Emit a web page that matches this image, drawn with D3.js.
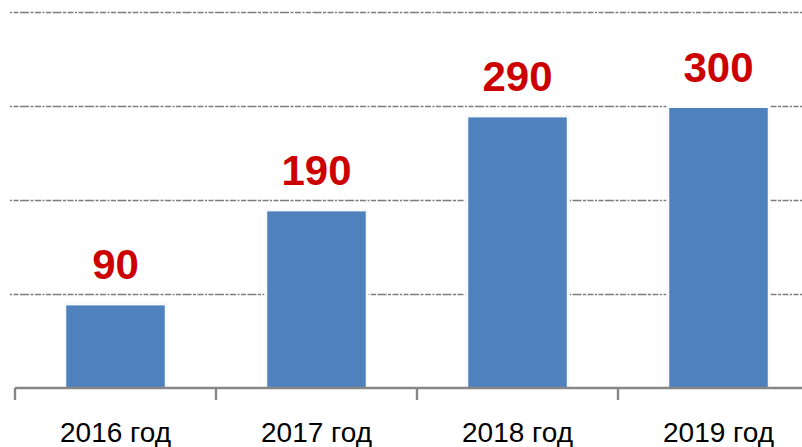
<!DOCTYPE html>
<html>
<head>
<meta charset="utf-8">
<script src="https://cdn.jsdelivr.net/npm/d3@7"></script>
<style>
  html, body { margin: 0; padding: 0; background: #fff; }
  svg { display: block; }
</style>
</head>
<body>
<svg id="chart" width="802" height="447"></svg>
<script>
// Yearly totals
const years = ["2016 год", "2017 год", "2018 год", "2019 год"];
const values = [90, 190, 290, 300];
const gridTicks = [100, 200, 300, 400];

const svg = d3.select("#chart");
const W = 802;
const baseY = 388;

const x = d3.scaleBand().domain(years).range([15, 819]).paddingInner(0.51).paddingOuter(0.255);
const y = d3.scaleLinear().domain([0, 400]).range([baseY, 12]);

// Dashed horizontal gridlines
svg.append("g").selectAll("line").data(gridTicks).join("line")
  .attr("x1", 10).attr("x2", W)
  .attr("y1", d => Math.round(y(d)) + 0.5).attr("y2", d => Math.round(y(d)) + 0.5)
  .attr("stroke", "#7c7c7c").attr("stroke-width", 1.7)
  .attr("stroke-dasharray", "2,1.5,5,1.5,9,1.5,3,1.5,6,1.5");

// Light halo around each bar, breaking the gridlines
svg.append("g").selectAll("rect").data(values).join("rect")
  .attr("x", (d, i) => x(years[i]) - 3)
  .attr("y", d => y(d) - 1)
  .attr("width", x.bandwidth() + 6)
  .attr("height", d => baseY - y(d) + 1)
  .attr("fill", "#f9fafc");

// Bars
svg.append("g").selectAll("rect").data(values).join("rect")
  .attr("x", (d, i) => x(years[i]))
  .attr("y", d => y(d) + 2)
  .attr("width", x.bandwidth())
  .attr("height", d => baseY - y(d) - 2)
  .attr("fill", "#4f81bd");

// Category axis line and tick marks at band boundaries
const axisG = svg.append("g").attr("transform", `translate(0,${baseY})`);
axisG.append("line")
  .attr("x1", 15).attr("x2", W)
  .attr("y1", 0).attr("y2", 0)
  .attr("stroke", "#868686").attr("stroke-width", 2.4);
const edges = years.map((d, i) => 15 + i * x.step());
axisG.append("g").selectAll("line").data(edges).join("line")
  .attr("x1", d => d).attr("x2", d => d)
  .attr("y1", 0).attr("y2", 12)
  .attr("stroke", "#868686").attr("stroke-width", 2.4);

// Category labels
const labelsG = svg.append("g").attr("transform", `translate(0,${baseY})`)
  .call(d3.axisBottom(x).tickSize(0).tickPadding(0));
labelsG.select(".domain").remove();
labelsG.selectAll("text")
  .attr("y", 54).attr("dy", 0)
  .attr("font-family", "Liberation Sans, Arial, sans-serif")
  .attr("font-size", 28)
  .attr("fill", "#000");

// Value labels
svg.append("g").selectAll("text").data(values).join("text")
  .attr("x", (d, i) => x(years[i]) + x.bandwidth() / 2)
  .attr("y", d => y(d) - 24)
  .attr("text-anchor", "middle")
  .attr("font-family", "Liberation Sans, Arial, sans-serif")
  .attr("font-weight", "bold")
  .attr("font-size", 42)
  .attr("fill", "#cc0000")
  .text(d => d);
</script>
</body>
</html>
